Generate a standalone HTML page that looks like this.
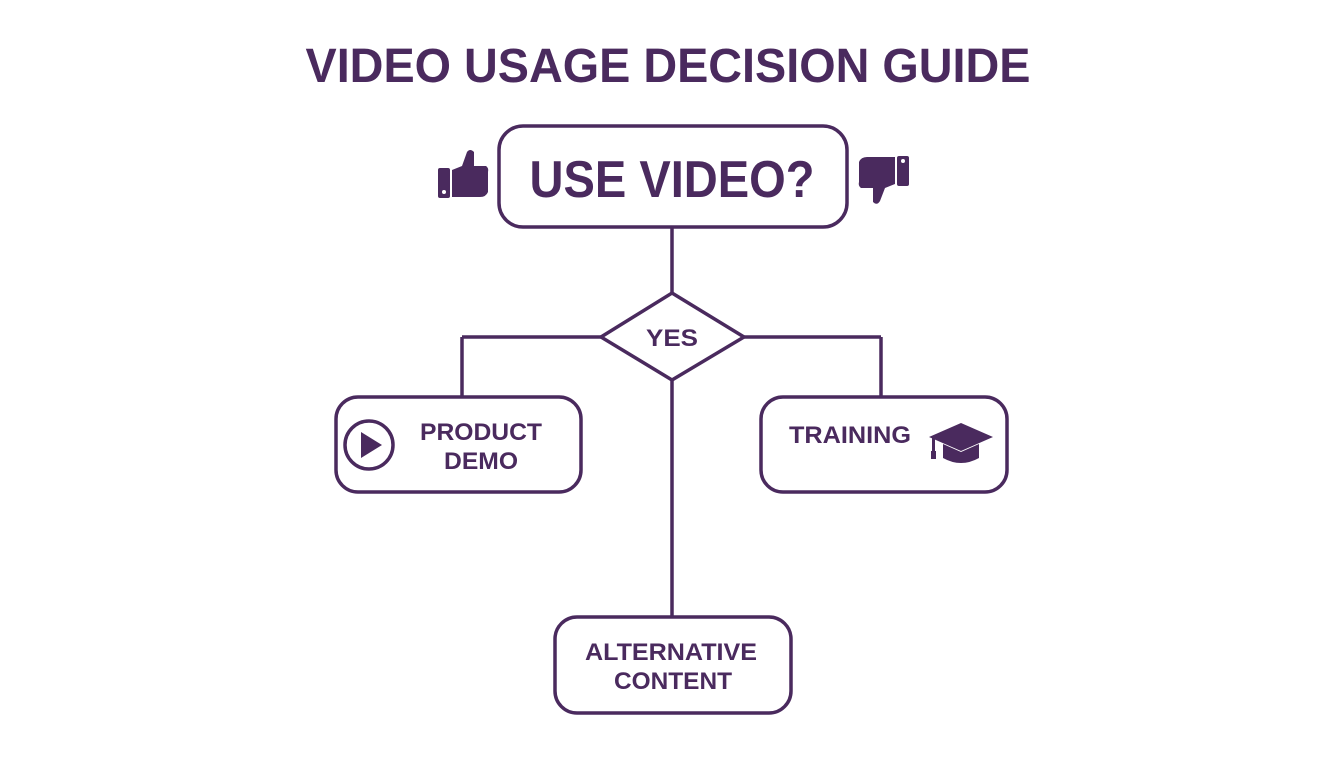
<!DOCTYPE html>
<html><head><meta charset="utf-8"><style>
html,body{margin:0;padding:0;background:#fff;}
svg{display:block}
text{font-family:"Liberation Sans",sans-serif;font-weight:bold;fill:#4a2a5e;}
</style></head><body>
<svg width="1344" height="768" viewBox="0 0 1344 768" xmlns="http://www.w3.org/2000/svg">
<g fill="none" stroke="#4a2a5e" stroke-width="3.5">
<rect x="499" y="126" width="348" height="101" rx="24"/>
<line x1="672" y1="227" x2="672" y2="293"/>
<polygon points="672,293 744,337 672,380 601,337"/>
<line x1="462" y1="337" x2="601" y2="337"/>
<line x1="744" y1="337" x2="881" y2="337"/>
<line x1="462" y1="337" x2="462" y2="397"/>
<line x1="881" y1="337" x2="881" y2="397"/>
<line x1="672" y1="380" x2="672" y2="617"/>
<rect x="336" y="397" width="245" height="95" rx="22"/>
<rect x="761" y="397" width="246" height="95" rx="22"/>
<rect x="555" y="617" width="236" height="96" rx="22"/>
<circle cx="369" cy="445" r="24"/>
</g>
<polygon points="361,432 361,458 382,445" fill="#4a2a5e"/>
<!-- grad cap -->
<g fill="#4a2a5e">
<polygon points="929,437 961,423 993,437 961,451"/>
<path d="M943,444 L961,452 L979,444 L979,458 Q961,468 943,458 Z"/>
<rect x="932" y="438" width="3" height="16"/>
<rect x="931" y="451" width="5" height="8"/>
</g>
<!-- thumbs up -->
<g fill="#4a2a5e">
<rect x="438" y="168" width="12" height="30" rx="2"/>
<path d="M452,170 L462,166 L467,152 Q470,148 474,152 L474,166 L486,166 Q489,168 488,172 L488,192 Q486,197 480,197 L452,197 Z"/>
</g>
<circle cx="444" cy="192" r="2" fill="#fff"/>
<!-- thumbs down -->
<g fill="#4a2a5e">
<rect x="897" y="156" width="12" height="30" rx="2"/>
<path d="M895,184 L885,188 L880,201 Q877,206 873,202 L873,188 L861,188 Q858,186 859,182 L859,162 Q861,157 867,157 L895,157 Z"/>
</g>
<circle cx="903" cy="161" r="2" fill="#fff"/>
<text x="668" y="82" font-size="48" text-anchor="middle" textLength="725" lengthAdjust="spacingAndGlyphs">VIDEO USAGE DECISION GUIDE</text>
<text x="672" y="197" font-size="52" text-anchor="middle" textLength="285" lengthAdjust="spacingAndGlyphs">USE VIDEO?</text>
<text x="672" y="346" font-size="24" text-anchor="middle" textLength="52" lengthAdjust="spacingAndGlyphs">YES</text>
<text x="481" y="440" font-size="24" text-anchor="middle" textLength="122" lengthAdjust="spacingAndGlyphs">PRODUCT</text>
<text x="481" y="469" font-size="24" text-anchor="middle" textLength="74" lengthAdjust="spacingAndGlyphs">DEMO</text>
<text x="850" y="443" font-size="24" text-anchor="middle" textLength="122" lengthAdjust="spacingAndGlyphs">TRAINING</text>
<text x="671" y="660" font-size="24" text-anchor="middle" textLength="172" lengthAdjust="spacingAndGlyphs">ALTERNATIVE</text>
<text x="673" y="689" font-size="24" text-anchor="middle" textLength="118" lengthAdjust="spacingAndGlyphs">CONTENT</text>
</svg>
</body></html>
